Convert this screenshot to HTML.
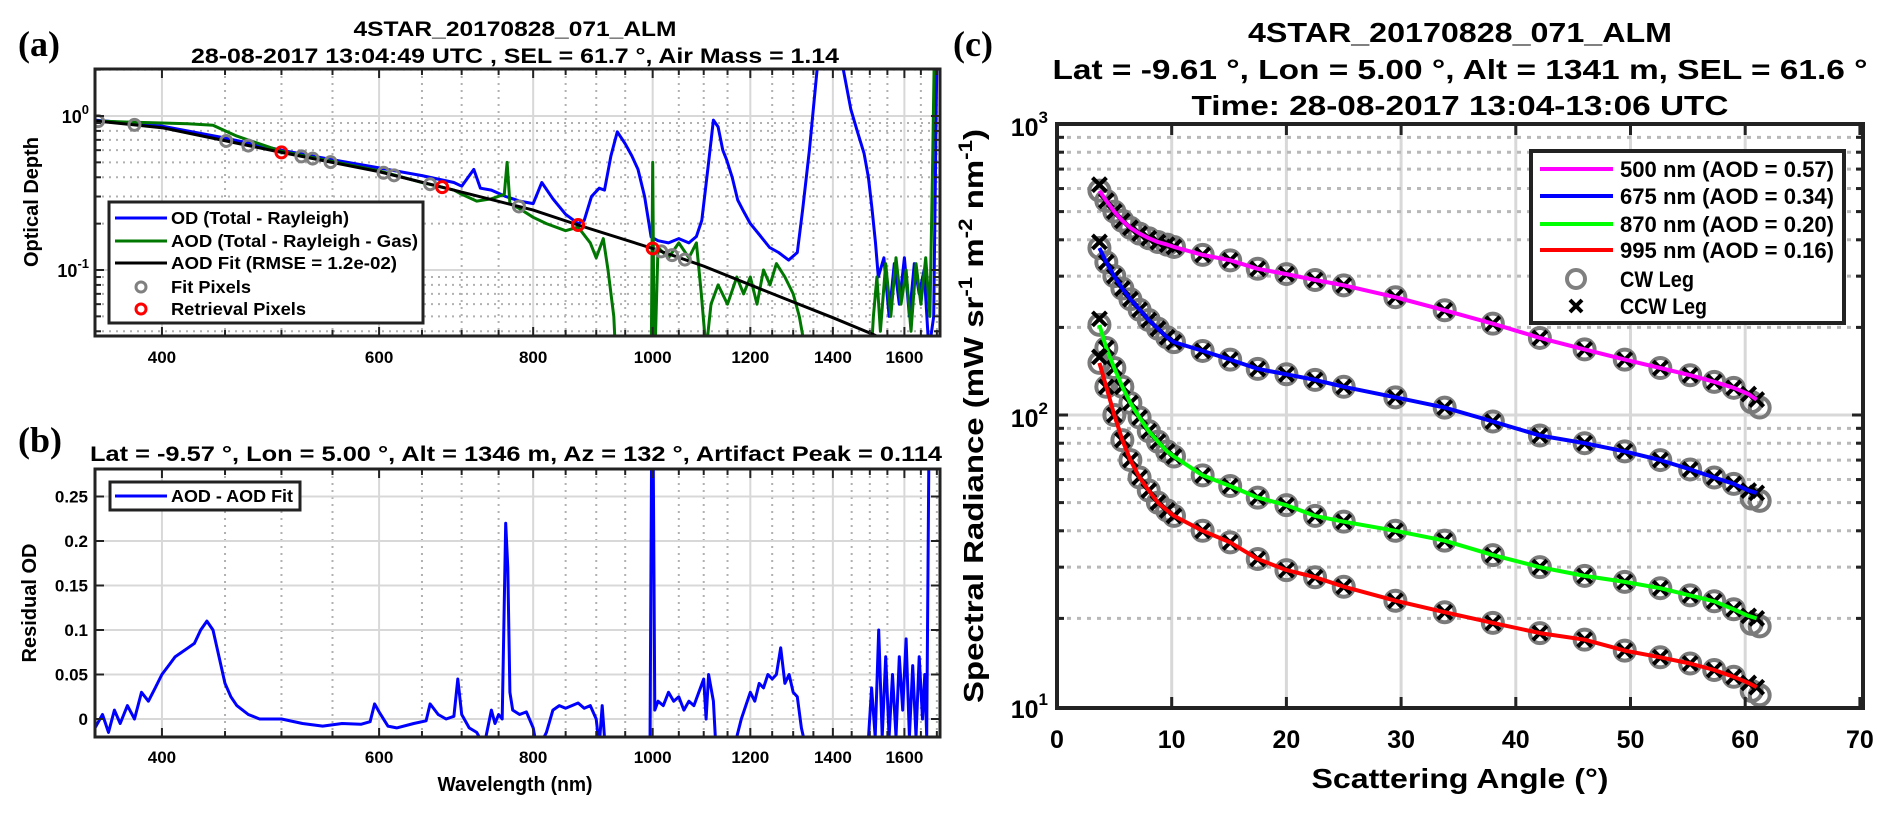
<!DOCTYPE html>
<html><head><meta charset="utf-8">
<style>
html,body{margin:0;padding:0;background:#fff;}
svg{display:block;font-family:"Liberation Sans",Arial,sans-serif;font-weight:bold;}
</style></head>
<body>
<svg id="fig" width="1892" height="814" viewBox="0 0 1892 814" xmlns="http://www.w3.org/2000/svg">
<defs>
<clipPath id="clipA"><rect x="95" y="69" width="845" height="267"/></clipPath>
<clipPath id="clipB"><rect x="95" y="469" width="845" height="268"/></clipPath>
<clipPath id="clipC"><rect x="1057" y="124" width="806" height="584"/></clipPath>
</defs>
<rect x="0" y="0" width="1892" height="814" fill="#fff"/>
<g id="gridA"></g>
<g id="gridB"></g>
<g id="gridC"></g>
<g id="dataA" clip-path="url(#clipA)"></g>
<g id="dataB" clip-path="url(#clipB)"></g>
<g id="dataC" clip-path="url(#clipC)"></g>
<g id="axes"></g>

<!-- Panel labels and titles -->
<text x="18" y="56" font-family="Liberation Serif,serif" font-size="36">(a)</text>
<text x="18" y="452" font-family="Liberation Serif,serif" font-size="36">(b)</text>
<text x="953" y="56" font-family="Liberation Serif,serif" font-size="36">(c)</text>

<text x="515" y="36" font-size="21" text-anchor="middle" textLength="323" lengthAdjust="spacingAndGlyphs">4STAR_20170828_071_ALM</text>
<text x="515" y="63" font-size="21" text-anchor="middle" textLength="648" lengthAdjust="spacingAndGlyphs">28-08-2017 13:04:49 UTC , SEL = 61.7 °, Air Mass = 1.14</text>
<text x="516" y="461" font-size="21" text-anchor="middle" textLength="852" lengthAdjust="spacingAndGlyphs">Lat = -9.57 °, Lon = 5.00 °, Alt = 1346 m, Az = 132 °, Artifact Peak = 0.114</text>

<text x="1460" y="42" font-size="28" text-anchor="middle" textLength="424" lengthAdjust="spacingAndGlyphs">4STAR_20170828_071_ALM</text>
<text x="1460" y="79" font-size="28" text-anchor="middle" textLength="815" lengthAdjust="spacingAndGlyphs">Lat = -9.61 °, Lon = 5.00 °, Alt = 1341 m, SEL = 61.6 °</text>
<text x="1460" y="115" font-size="28" text-anchor="middle" textLength="537" lengthAdjust="spacingAndGlyphs">Time: 28-08-2017 13:04-13:06 UTC</text>

<text transform="translate(38,202) rotate(-90)" font-size="20" text-anchor="middle">Optical Depth</text>
<text transform="translate(36,603) rotate(-90)" font-size="20" text-anchor="middle">Residual OD</text>
<text x="515" y="791" font-size="20" text-anchor="middle" textLength="155" lengthAdjust="spacingAndGlyphs">Wavelength (nm)</text>
<text x="1460" y="788" font-size="28" text-anchor="middle" textLength="297" lengthAdjust="spacingAndGlyphs">Scattering Angle (°)</text>
<text transform="translate(983,416) rotate(-90)" font-size="28" text-anchor="middle" textLength="574" lengthAdjust="spacingAndGlyphs">Spectral Radiance (mW sr<tspan font-size="19" dy="-11">-1</tspan><tspan dy="11"> m</tspan><tspan font-size="19" dy="-11">-2</tspan><tspan dy="11"> nm</tspan><tspan font-size="19" dy="-11">-1</tspan><tspan dy="11">)</tspan></text>

<!-- Legend A -->
<g>
<rect x="109" y="202" width="314" height="121" fill="#fff" stroke="#222" stroke-width="3"/>
<line x1="115" y1="218" x2="167" y2="218" stroke="#0000ff" stroke-width="3"/>
<text x="171" y="224" font-size="17.5" textLength="178" lengthAdjust="spacingAndGlyphs">OD (Total - Rayleigh)</text>
<line x1="115" y1="241" x2="167" y2="241" stroke="#007700" stroke-width="3"/>
<text x="171" y="247" font-size="17.5" textLength="247" lengthAdjust="spacingAndGlyphs">AOD (Total - Rayleigh - Gas)</text>
<line x1="115" y1="263" x2="167" y2="263" stroke="#000" stroke-width="3"/>
<text x="171" y="269" font-size="17.5" textLength="226" lengthAdjust="spacingAndGlyphs">AOD Fit (RMSE = 1.2e-02)</text>
<circle cx="141" cy="287" r="5" fill="none" stroke="#808080" stroke-width="3"/>
<text x="171" y="293" font-size="17.5" textLength="80" lengthAdjust="spacingAndGlyphs">Fit Pixels</text>
<circle cx="141" cy="309" r="5" fill="none" stroke="#ff0000" stroke-width="3"/>
<text x="171" y="315" font-size="17.5" textLength="135" lengthAdjust="spacingAndGlyphs">Retrieval Pixels</text>
</g>

<!-- Legend B -->
<g>
<rect x="110" y="482" width="190" height="28" fill="#fff" stroke="#222" stroke-width="3"/>
<line x1="115" y1="496" x2="167" y2="496" stroke="#0000ff" stroke-width="3"/>
<text x="171" y="502" font-size="17.5" textLength="122" lengthAdjust="spacingAndGlyphs">AOD - AOD Fit</text>
</g>

<!-- Legend C -->
<g>
<rect x="1531" y="151" width="313" height="172" fill="#fff" stroke="#222" stroke-width="4"/>
<line x1="1540" y1="169" x2="1613" y2="169" stroke="#ff00ff" stroke-width="4"/>
<text x="1620" y="177" font-size="22" textLength="214" lengthAdjust="spacingAndGlyphs">500 nm (AOD = 0.57)</text>
<line x1="1540" y1="196" x2="1613" y2="196" stroke="#0000ff" stroke-width="4"/>
<text x="1620" y="204" font-size="22" textLength="214" lengthAdjust="spacingAndGlyphs">675 nm (AOD = 0.34)</text>
<line x1="1540" y1="224" x2="1613" y2="224" stroke="#00ff00" stroke-width="4"/>
<text x="1620" y="232" font-size="22" textLength="214" lengthAdjust="spacingAndGlyphs">870 nm (AOD = 0.20)</text>
<line x1="1540" y1="250" x2="1613" y2="250" stroke="#ff0000" stroke-width="4"/>
<text x="1620" y="258" font-size="22" textLength="214" lengthAdjust="spacingAndGlyphs">995 nm (AOD = 0.16)</text>
<circle cx="1576" cy="279" r="9" fill="none" stroke="#808080" stroke-width="4"/>
<text x="1620" y="287" font-size="22" textLength="74" lengthAdjust="spacingAndGlyphs">CW Leg</text>
<path d="M1570 300 L1582 312 M1582 300 L1570 312" stroke="#000" stroke-width="4"/>
<text x="1620" y="314" font-size="22" textLength="87" lengthAdjust="spacingAndGlyphs">CCW Leg</text>
</g>
</svg>

<script>
// ---------- Panel A data ----------
const fitWl  = [353, 400, 500, 600, 675, 800, 870, 1000, 1100, 1200, 1300, 1400, 1500, 1600, 1710];
const fitVal = [0.93, 0.84, 0.58, 0.435, 0.345, 0.245, 0.196, 0.138, 0.106, 0.080, 0.062, 0.049, 0.039, 0.031, 0.025];
const fitPixWl = [355, 380, 451, 470, 519, 530, 548, 605, 617, 660, 779, 1016, 1037, 1062];
const retPixWl = [500, 675, 870, 1000];
const odWl  = [353,400,450,500,550,600,650,690,700,716,725,740,760,780,800,813,830,850,870,880,892,905,914,925,936,950,962,973,985,997,1010,1030,1050,1070,1085,1096,1110,1120,1130,1140,1148,1160,1172,1185,1200,1220,1244,1265,1289,1310,1323,1340,1361,1380,1400,1420,1448,1465,1484,1496,1506,1516,1524,1540,1555,1570,1585,1600,1615,1630,1645,1660,1675,1690,1700,1710];
const odVal = [0.94,0.86,0.72,0.6,0.52,0.46,0.41,0.37,0.35,0.45,0.34,0.33,0.30,0.28,0.27,0.37,0.29,0.23,0.2,0.21,0.3,0.34,0.33,0.55,0.79,0.66,0.55,0.45,0.3,0.164,0.155,0.15,0.16,0.15,0.165,0.21,0.5,0.94,0.85,0.6,0.52,0.4,0.285,0.24,0.2,0.17,0.14,0.13,0.116,0.13,0.245,0.6,2.2,2.5,2.6,2.5,1.1,0.8,0.57,0.4,0.25,0.15,0.09,0.12,0.05,0.11,0.06,0.12,0.05,0.11,0.07,0.1,0.03,0.05,2.5,2.5];
const aodWl  = [353,380,400,420,440,460,500,600,650,690,700,720,740,758,762,766,780,800,820,850,870,890,900,912,920,930,935,975,990,997,1000,1003,1010,1030,1050,1070,1085,1095,1105,1115,1130,1150,1170,1185,1200,1215,1230,1245,1260,1280,1300,1315,1330,1345,1500,1510,1520,1530,1545,1560,1575,1590,1605,1620,1635,1650,1665,1678,1686,1692,1710];
const aodVal = [0.93,0.91,0.9,0.89,0.87,0.74,0.59,0.44,0.37,0.33,0.31,0.28,0.29,0.31,0.5,0.27,0.25,0.22,0.2,0.18,0.19,0.15,0.12,0.16,0.1,0.05,0.02,0.02,0.02,0.02,0.5,0.02,0.14,0.12,0.15,0.12,0.15,0.07,0.03,0.06,0.08,0.06,0.09,0.07,0.09,0.06,0.1,0.08,0.11,0.09,0.07,0.05,0.03,0.02,0.02,0.05,0.09,0.04,0.11,0.05,0.12,0.06,0.1,0.04,0.11,0.06,0.12,0.05,0.4,2.5,2.5];

// ---------- Panel B data ----------
const resWl  = [353,358,362,366,370,375,380,385,390,395,400,405,410,415,420,425,430,435,440,445,450,455,460,470,480,500,520,540,560,580,590,595,600,610,620,640,655,660,670,680,690,695,700,710,720,730,740,745,750,755,760,763,766,770,780,790,800,805,810,820,830,840,850,860,870,880,890,900,905,910,915,920,990,995,998,1001,1004,1010,1020,1030,1040,1050,1060,1070,1080,1090,1100,1105,1110,1120,1125,1130,1160,1170,1180,1190,1200,1210,1220,1230,1240,1250,1260,1270,1280,1290,1300,1310,1320,1330,1490,1495,1505,1515,1525,1535,1545,1555,1565,1575,1585,1595,1605,1615,1625,1635,1645,1655,1662,1668,1675,1710];
const resVal = [-0.01,0.005,-0.015,0.01,-0.005,0.015,0.0,0.03,0.02,0.035,0.05,0.06,0.07,0.075,0.08,0.085,0.1,0.11,0.1,0.07,0.04,0.025,0.015,0.005,0.0,0.0,-0.005,-0.008,-0.005,-0.006,-0.003,0.017,0.008,-0.008,-0.01,-0.005,-0.002,0.017,0.005,0.0,0.003,0.045,0.005,-0.01,-0.015,-0.03,0.01,-0.005,0.005,0.0,0.22,0.17,0.03,0.01,0.005,0.008,-0.01,-0.03,-0.03,-0.015,0.01,0.015,0.012,0.015,0.018,0.012,0.015,0.0,-0.03,0.015,-0.03,null,-0.03,-0.03,0.3,0.3,0.01,0.02,0.015,0.03,0.02,0.025,0.01,0.02,0.015,0.03,0.045,0.0,0.05,0.02,-0.03,null,-0.03,-0.02,0.0,0.015,0.03,0.02,0.04,0.035,0.05,0.045,0.05,0.08,0.04,0.05,0.03,0.025,-0.01,-0.03,null,-0.03,0.035,-0.02,0.1,-0.02,0.07,-0.02,0.05,-0.02,0.07,0.01,0.09,-0.02,0.06,-0.02,0.07,0.0,0.05,-0.02,0.3,0.3];

// ---------- Panel C data ----------
const angles  = [3.7,4.3,5,5.7,6.4,7.2,8,8.8,9.6,10.2,12.7,15.1,17.5,20,22.5,25,29.5,33.8,38,42.1,46,49.5,52.6,55.2,57.3,59,60.3,61];
const rad500 = [590,545,500,465,440,420,405,393,385,378,355,340,318,305,291,279,254,229,206,184,168,155,145,137,130,124,118,113];
const rad675 = [375,335,300,272,250,230,212,198,185,178,166,155,144,138,132,125,115,106,95,85,80,75,70,65,61,58,55,54];
const rad870 = [204,170,145,125,110,98,88,81,75,72,62,57,52,49,45,43,40,37,33,30,28,26.7,25.4,24,22.9,21.5,20.4,20];
const rad995 = [151,125,100,82,70,61,55,50,47,45,40,36.5,32,29.3,27.7,25.7,23,21,19.3,17.8,16.9,15.5,14.7,14,13.3,12.6,12,11.6];
const seriesColors = ['#ff00ff','#0000ff','#00ff00','#ff0000'];
const xTicksC = [0,10,20,30,40,50,60,70];
const xTicksAB = [400,600,800,1000,1200,1400,1600];
const yTicksB = [0,0.05,0.1,0.15,0.2,0.25];
const yTickLabelsB = ['0','0.05','0.1','0.15','0.2','0.25'];

// ---------- scales ----------
const NS='http://www.w3.org/2000/svg';
const L0=Math.log(353), L1=Math.log(1710);
function xA(w){return 95+(Math.log(w)-L0)/(L1-L0)*845;}
function yA(v){return 116-154*Math.log10(v);}
function yB(v){return 719-v*890;}
function xC(a){return 1057+a*11.47;}
function yC(v){return 415-291*(Math.log10(v)-2);}

function mk(tag,attrs,parent){const e=document.createElementNS(NS,tag);for(const k in attrs)e.setAttribute(k,attrs[k]);parent.appendChild(e);return e;}
const gA=document.getElementById('gridA'), gB=document.getElementById('gridB'), gC=document.getElementById('gridC');
const dA=document.getElementById('dataA'), dB=document.getElementById('dataB'), dC=document.getElementById('dataC');
const ax=document.getElementById('axes');

function interp(xs,ys,x){for(let i=0;i<xs.length-1;i++){if(x>=xs[i]&&x<=xs[i+1]){const t=(Math.log(x)-Math.log(xs[i]))/(Math.log(xs[i+1])-Math.log(xs[i]));return Math.exp(Math.log(ys[i])+t*(Math.log(ys[i+1])-Math.log(ys[i])));}}return ys[ys.length-1];}

// ---------- grids panel A/B (x) ----------
for(let w=400;w<=1700;w+=50){
  const major=xTicksAB.indexOf(w)>=0; const x=xA(w);
  [[gA,69,336],[gB,469,737]].forEach(([g,t,b])=>{
    const l=mk('line',{x1:x,x2:x,y1:t,y2:b,stroke:major?'#d8d8d8':'#b0b0b0','stroke-width':major?2:2,'stroke-dasharray':major?'none':'2,5'},g);
    
    
    mk('line',{x1:x,x2:x,y1:b,y2:b-(major?9:6),stroke:'#222','stroke-width':2},ax);
    mk('line',{x1:x,x2:x,y1:t,y2:t+(major?9:6),stroke:'#222','stroke-width':2},ax);
  });
}
xTicksAB.forEach(w=>{
  [363,763].forEach(yy=>{
    const t=mk('text',{x:xA(w),y:yy,'font-size':17,'text-anchor':'middle'},ax);
    t.textContent=w;
    
    
  });
});
// panel A y grid
[0.04,0.05,0.06,0.07,0.08,0.09,0.1,0.2,0.3,0.4,0.5,0.6,0.7,0.8,0.9,1,2].forEach(v=>{
  const major=(v===0.1||v===1); const y=yA(v);
  const l=mk('line',{x1:95,x2:940,y1:y,y2:y,stroke:major?'#d8d8d8':'#b0b0b0','stroke-width':2,'stroke-dasharray':major?'none':'2,5'},gA);
  
  
  mk('line',{x1:95,x2:95+(major?9:6),y1:y,y2:y,stroke:'#222','stroke-width':2},ax);
  mk('line',{x1:940,x2:940-(major?9:6),y1:y,y2:y,stroke:'#222','stroke-width':2},ax);
});
[[1,'0'],[0.1,'-1']].forEach(([v,e])=>{
  const t=mk('text',{x:89,y:yA(v)+7,'font-size':18,'text-anchor':'end'},ax);
  t.innerHTML='10<tspan font-size="13" dy="-9">'+e+'</tspan>';
  
  
});
// panel B y grid
yTicksB.forEach((v,i)=>{
  const y=yB(v);
  const l=mk('line',{x1:95,x2:940,y1:y,y2:y,stroke:'#d8d8d8','stroke-width':2},gB);
  
  
  mk('line',{x1:95,x2:104,y1:y,y2:y,stroke:'#222','stroke-width':2},ax);
  mk('line',{x1:940,x2:931,y1:y,y2:y,stroke:'#222','stroke-width':2},ax);
  const t=mk('text',{x:88,y:y+6,'font-size':17,'text-anchor':'end'},ax);
  t.textContent=yTickLabelsB[i];
  
  
});

// ---------- panel C grid ----------
xTicksC.forEach(a=>{
  const x=xC(a);
  if(a>0&&a<70){const l=mk('line',{x1:x,x2:x,y1:124,y2:708,stroke:'#d8d8d8','stroke-width':3},gC);
    
    }
  mk('line',{x1:x,x2:x,y1:708,y2:697,stroke:'#222','stroke-width':3},ax);
  mk('line',{x1:x,x2:x,y1:124,y2:135,stroke:'#222','stroke-width':3},ax);
  const t=mk('text',{x:x,y:748,'font-size':25,'text-anchor':'middle'},ax);
  t.textContent=a;
  
  
});
[20,30,40,50,60,70,80,90,100,200,300,400,500,600,700,800,900].forEach(v=>{
  const y=yC(v); const major=(v===100);
  const l=mk('line',{x1:1057,x2:1863,y1:y,y2:y,stroke:major?'#d8d8d8':'#b8b8b8','stroke-width':3,'stroke-dasharray':major?'none':'4,6'},gC);
  
  
  mk('line',{x1:1057,x2:1057+(major?11:7),y1:y,y2:y,stroke:'#222','stroke-width':3},ax);
  mk('line',{x1:1863,x2:1863-(major?11:7),y1:y,y2:y,stroke:'#222','stroke-width':3},ax);
});
[[1000,'3'],[100,'2'],[10,'1']].forEach(([v,e])=>{
  const t=mk('text',{x:1048,y:yC(v)+12,'font-size':25,'text-anchor':'end'},ax);
  t.innerHTML='10<tspan font-size="17" dy="-13">'+e+'</tspan>';
  
  
});

// ---------- axis boxes ----------
[[95,69,845,267],[95,469,845,268]].forEach(r=>{
  const b=mk('rect',{x:r[0],y:r[1],width:r[2],height:r[3],fill:'none',stroke:'#222','stroke-width':3},ax);
  
  
});
const bc=mk('rect',{x:1057,y:124,width:806,height:584,fill:'none',stroke:'#222','stroke-width':4},ax);



// ---------- series panel A ----------
function pathLog(xs,ys,fx,fy){let d='',pen=false;for(let i=0;i<xs.length;i++){if(ys[i]===null){pen=false;continue;}d+=(pen?'L':'M')+fx(xs[i]).toFixed(1)+' '+fy(ys[i]).toFixed(1)+' ';pen=true;}return d;}
const pOD=mk('path',{d:pathLog(odWl,odVal,xA,yA),fill:'none',stroke:'#0000ff','stroke-width':3,'stroke-linejoin':'round'},dA);


const pAOD=mk('path',{d:pathLog(aodWl,aodVal,xA,yA),fill:'none',stroke:'#007700','stroke-width':3,'stroke-linejoin':'round'},dA);


const pFit=mk('path',{d:pathLog(fitWl,fitVal,xA,yA),fill:'none',stroke:'#000','stroke-width':3},dA);


fitPixWl.forEach(w=>{
  const c=mk('circle',{cx:xA(w),cy:yA(interp(fitWl,fitVal,w)),r:5.5,fill:'none',stroke:'#808080','stroke-width':3},dA);
  
  
});
retPixWl.forEach(w=>{
  const c=mk('circle',{cx:xA(w),cy:yA(interp(fitWl,fitVal,w)),r:5.5,fill:'none',stroke:'#ff0000','stroke-width':3},dA);
  
  
});

// ---------- series panel B ----------
const pRes=mk('path',{d:pathLog(resWl,resVal,xA,yB),fill:'none',stroke:'#0000ff','stroke-width':3,'stroke-linejoin':'round'},dB);



// ---------- series panel C ----------
const radSeries=[rad500,rad675,rad870,rad995];
radSeries.forEach((vals,si)=>{
  angles.forEach((a,i)=>{
    const c=mk('circle',{cx:xC(a)+(i>=angles.length-2?3:0),cy:yC(vals[i])+(i>=angles.length-2?8:0),r:10,fill:'none',stroke:'#7a7a7a','stroke-width':4},dC);
    
    
  });
});
radSeries.forEach((vals,si)=>{
  angles.forEach((a,i)=>{
    const x=xC(a), y=yC(vals[i])-(i===0?6:0), s=7;
    const m=mk('path',{d:`M${x-s} ${y-s}L${x+s} ${y+s}M${x+s} ${y-s}L${x-s} ${y+s}`,stroke:'#000','stroke-width':4},dC);
    
    
  });
  const p=mk('path',{d:pathLog(angles,vals,xC,yC),fill:'none',stroke:seriesColors[si],'stroke-width':4,'stroke-linejoin':'round'},dC);
  
  
});
</script>
</body></html>
